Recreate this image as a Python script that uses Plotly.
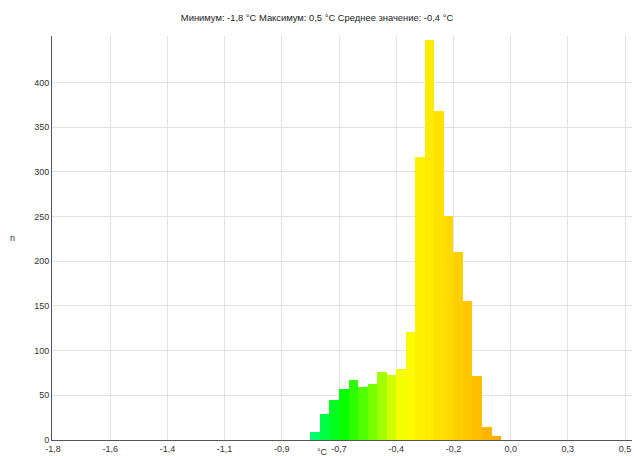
import plotly.graph_objects as go

# Histogram data: 60 bins from -1.8 to 0.5 °C
bin_low = -1.8
bin_high = 0.5
n_bins = 60
counts = [0] * 27 + [9, 29, 45, 57, 67, 59, 63, 76, 73, 80,
                     121, 317, 447, 368, 251, 210, 156, 72, 14, 4] + [0] * 13

tick_values_c = [-1.8, -1.57, -1.34, -1.11, -0.88, -0.65, -0.42, -0.19, 0.04, 0.27, 0.5]
tick_labels = ["-1,8", "-1,6", "-1,4", "-1,1", "-0,9", "-0,7", "-0,4", "-0,2", "0,0", "0,3", "0,5"]
y_ticks = [0, 50, 100, 150, 200, 250, 300, 350, 400]
title_text = "Минимум: -1,8 °C Максимум: 0,5 °C Среднее значение: -0,4 °C"

width = (bin_high - bin_low) / n_bins
centers = [bin_low + (i + 0.5) * width for i in range(n_bins)]

colorscale = [
    [0.00, "#00ff90"],
    [0.10, "#00ff40"],
    [0.18, "#00ff00"],
    [0.35, "#80ff00"],
    [0.45, "#d8ff00"],
    [0.50, "#ffff00"],
    [0.65, "#ffe800"],
    [0.80, "#ffcc00"],
    [1.00, "#ffa800"],
]

fig = go.Figure(go.Bar(
    x=centers, y=counts, width=width,
    marker=dict(color=centers, colorscale=colorscale, cmin=-0.78, cmax=0.0,
                line=dict(width=0)),
    hoverinfo="x+y",
))

font = dict(family="Liberation Sans, DejaVu Sans, sans-serif", size=9, color="#333333")

fig.update_layout(
    width=634, height=456,
    margin=dict(l=52, r=2, t=36, b=16),
    paper_bgcolor="white", plot_bgcolor="white",
    font=font,
    showlegend=False,
    bargap=0,
    title=dict(text=title_text, x=0.5, xref="container", y=0.962, yref="container",
               xanchor="center", yanchor="middle", font=dict(size=9.4, color="#222222",
               family="Liberation Sans, DejaVu Sans, sans-serif")),
    xaxis=dict(range=[-1.804, 0.528], tickvals=tick_values_c, ticktext=tick_labels,
               showgrid=True, gridcolor="#e3e3e3", gridwidth=1,
               showline=True, linecolor="#555555", linewidth=1,
               zeroline=False, ticks="", ticklen=0, fixedrange=True, automargin=False),
    yaxis=dict(range=[0, 452], tickvals=y_ticks,
               showgrid=True, gridcolor="#e3e3e3", gridwidth=1,
               showline=True, linecolor="#555555", linewidth=1,
               zeroline=False, ticks="", fixedrange=True, automargin=False),
    annotations=[
        dict(text="n", x=-40 / 580, y=0.5, xref="paper", yref="paper", showarrow=False,
             xanchor="center", font=dict(size=9, color="#333333")),
        dict(text="°C", x=(322 - 52) / 580, y=-0.03, xref="paper", yref="paper",
             showarrow=False, xanchor="center", yanchor="middle",
             font=dict(size=9, color="#333333")),
    ],
)

fig.write_html(
    "out.html",
    config={"displayModeBar": False},
    post_script="document.body.style.margin='0';document.body.style.padding='0';",
)
